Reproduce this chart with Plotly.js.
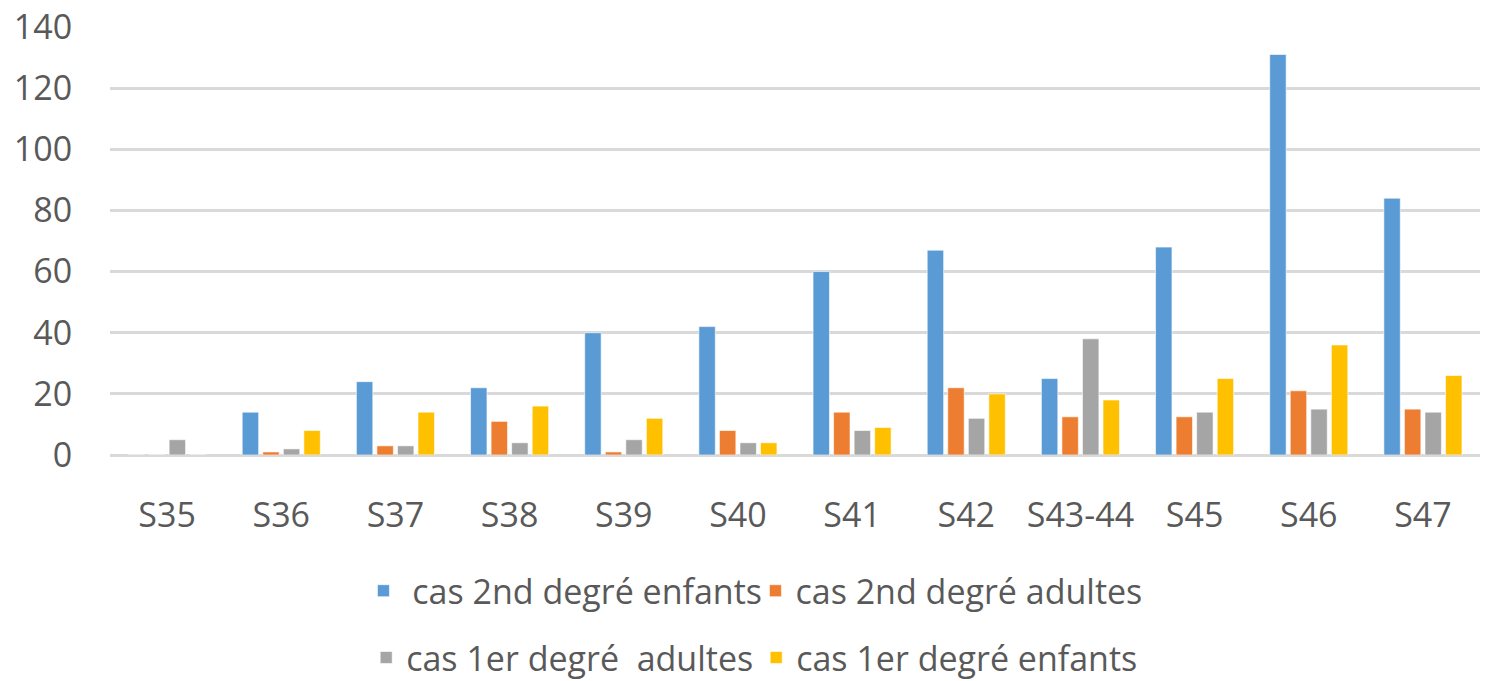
<!DOCTYPE html>
<html><head><meta charset="utf-8">
<script src="https://cdn.plot.ly/plotly-3.0.1.min.js"></script>
<style>html,body{margin:0;padding:0;background:#fff}#chart{width:1488px;height:681px}</style>
</head><body><div id="chart"></div>
<script>
const weeks = ["S35","S36","S37","S38","S39","S40","S41","S42","S43-44","S45","S46","S47"];
const enfants2nd = [0,14,24,22,40,42,60,67,25,68,131,84];
const adultes2nd = [0,1,3,11,1,8,14,22,12.5,12.5,21,15];
const adultes1er = [5,2,3,4,5,4,8,12,38,14,15,14];
const enfants1er = [0,8,14,16,12,4,9,20,18,25,36,26];
const seriesNames = [" cas 2nd degré enfants","cas 2nd degré adultes","cas 1er degré  adultes","cas 1er degré enfants"];
const colors = ["#5b9bd5","#ed7d31","#a5a5a5","#ffc000"];
const values = [enfants2nd, adultes2nd, adultes1er, enfants1er];
const legends = ["legend","legend","legend2","legend2"];
const font = {family:"Open Sans, sans-serif", size:34, color:"#595959"};
const traces = values.map((v,i)=>({
  type:"bar", x:weeks, y:v, name:seriesNames[i], legend:legends[i],
  marker:{color:colors[i], line:{color:"rgba(255,255,255,0.6)", width:1}}
}));
const layout = {
  width:1488, height:681,
  margin:{l:110, r:8, t:27, b:226, autoexpand:false},
  barmode:"group", bargap:0.28, bargroupgap:0.2,
  paper_bgcolor:"#fff", plot_bgcolor:"#fff",
  font:font,
  xaxis:{type:"category", showgrid:false, zeroline:false, showline:false,
         ticks:"outside", ticklen:30, tickcolor:"rgba(0,0,0,0)", tickfont:font},
  yaxis:{range:[0,140], dtick:20, showgrid:true, gridcolor:"#d9d9d9", gridwidth:3,
         zeroline:true, zerolinecolor:"#d9d9d9", zerolinewidth:3, showline:false,
         ticks:"outside", ticklen:30, tickcolor:"rgba(0,0,0,0)", tickfont:font},
  legend:{orientation:"h", x:0.185, xanchor:"left", y:-0.318, yanchor:"middle",
          font:font, entrywidth:347, tracegroupgap:0, bgcolor:"rgba(0,0,0,0)"},
  legend2:{orientation:"h", x:0.187, xanchor:"left", y:-0.474, yanchor:"middle",
          font:font, entrywidth:345, tracegroupgap:0, bgcolor:"rgba(0,0,0,0)"},
  showlegend:true
};
Plotly.newPlot("chart", traces, layout, {displayModeBar:false, staticPlot:true});
</script></body></html>
